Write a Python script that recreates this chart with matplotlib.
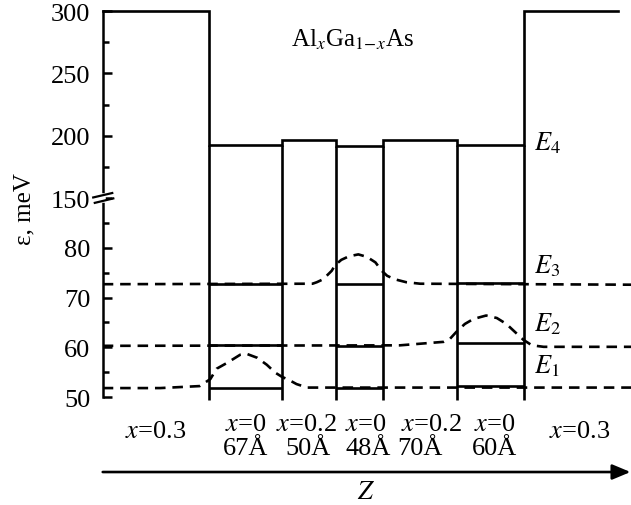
import numpy as np
import matplotlib
matplotlib.use("Agg")
import matplotlib.pyplot as plt
from matplotlib.ticker import FixedLocator, FixedFormatter
from matplotlib.transforms import blended_transform_factory

plt.rcParams['font.family'] = ['Liberation Serif', 'DejaVu Serif']
plt.rcParams['mathtext.fontset'] = 'stix'

# layer boundaries along z (Angstrom) and conduction band edge of each layer (meV)
bounds = [0, 100, 168, 219, 263, 333, 396, 484]
band_top = [300, 192.4, 197.0, 191.9, 196.7, 193.0, 300]
z_end = 496

layer_comp = ['$x$=0.3', '$x$=0', '$x$=0.2', '$x$=0', '$x$=0.2', '$x$=0', '$x$=0.3']
layer_width = ['', '67Å', '50Å', '48Å', '70Å', '60Å', '']
# where the labels sit along z (as printed, not exactly centred on layers)
comp_z = [50, 134, 191, 247, 309, 368, 448]
width_z = [None, 134, 193, 249, 298, 368, None]

# levels drawn as solid lines in the wells (layers 1, 3, 5)
well_idx = [1, 3, 5]
E1_lvl = [51.8, 51.9, 52.3]
E2_lvl = [60.4, 60.3, 60.8]
E3_lvl = [72.8, 72.8, 73.0]

# dashed wavefunction curves
E1_z = [0, 54, 91, 101, 107, 117, 129, 135, 145, 154, 162, 168, 176, 182, 192, 496]
E1_y = [51.8, 51.8, 52.2, 53.6, 55.7, 56.9, 58.5, 58.7, 57.9, 56.5, 54.9, 54.1, 53.3, 52.6, 51.9, 51.9]
E2_z = [0, 279, 320, 326, 332, 340, 348, 360, 370, 379, 387, 395, 403, 414, 496]
E2_y = [60.3, 60.4, 61.1, 61.7, 63.1, 64.7, 65.7, 66.4, 65.9, 64.7, 63.1, 61.5, 60.4, 60.1, 60.1]
E3_z = [0, 197, 201, 207, 215, 218, 224, 231, 240, 248, 256, 262, 267, 274, 285, 298, 496]
E3_y = [72.7, 72.8, 73.1, 73.7, 75.4, 76.5, 77.6, 78.3, 78.7, 78.2, 77.1, 75.4, 74.4, 73.7, 73.1, 72.8, 72.6]

E_lbl = ['$E_1$', '$E_2$', '$E_3$', '$E_4$']
E_lbl_y = [55.0, 63.5, 75.1, 189.5]
E_lbl_z = 405

major_ticks = [50, 60, 70, 80, 150, 200, 250, 300]
minor_ticks = [55, 65, 75, 85, 175, 225, 275]

# broken energy axis: 50..90 linear, 150..300 compressed
brk_in = [0, 89, 150, 400]
brk_out = [0, 89, 90, 90 + 250 * 0.2511]


def fwd(v):
    return np.interp(v, brk_in, brk_out)


def inv(u):
    return np.interp(u, brk_out, brk_in)


fig = plt.figure(figsize=(6.31, 5.06), dpi=100)
ax = fig.add_axes([0.1628, 0.2134, 0.8372, 0.7628])
ax.set_yscale('function', functions=(fwd, inv))
ax.set_xlim(0, z_end)
ax.set_ylim(50, 300)

lw = 1.9
dash = (0, (4.0, 2.6))

# band profile
px, py = [], []
for i, t in enumerate(band_top):
    px += [bounds[i], bounds[i + 1]]
    py += [t, t]
ax.plot(px, py, color='k', lw=lw, clip_on=False, solid_joinstyle='miter')
inner = bounds[1:-1]
vtop = [min(band_top[i], band_top[i + 1]) for i in range(len(inner))]
ax.vlines(inner, 49.3, vtop, color='k', lw=lw, clip_on=False)

# wavefunctions
for z, y in [(E1_z, E1_y), (E2_z, E2_y), (E3_z, E3_y)]:
    ax.plot(z, y, color='k', lw=lw, linestyle=dash)

# levels in the wells
for lv in [E1_lvl, E2_lvl, E3_lvl]:
    for k, i in enumerate(well_idx):
        ax.hlines(lv[k], bounds[i], bounds[i + 1], color='k', lw=lw, zorder=3)

for s, y in zip(E_lbl, E_lbl_y):
    ax.text(E_lbl_z, y, s, fontsize=19, ha='left', va='baseline')

ax.text(235, 272, r'Al$_x$Ga$_{1\!-\!x}$As', fontsize=18, ha='center', va='baseline')

# axes styling
for sp in ['top', 'right', 'bottom']:
    ax.spines[sp].set_visible(False)
ax.spines['left'].set_linewidth(1.8)
ax.xaxis.set_visible(False)
ax.yaxis.set_major_locator(FixedLocator(major_ticks))
ax.yaxis.set_major_formatter(FixedFormatter([str(t) for t in major_ticks]))
ax.yaxis.set_minor_locator(FixedLocator(minor_ticks))
ax.yaxis.set_minor_formatter(FixedFormatter([]))
ax.tick_params(axis='y', which='major', direction='in', length=6.5, width=1.8,
               labelsize=19, pad=9)
ax.tick_params(axis='y', which='minor', direction='in', length=4.3, width=1.8)
for t in ax.yaxis.get_major_ticks():
    if t.get_loc() == 150:
        t.tick1line.set_visible(False)

# axis break marks
bc = (fwd(150) - 50) / (fwd(300) - 50)
ax.plot([0, 0], [bc - 0.004, bc + 0.006], color='white', lw=4,
        transform=ax.transAxes, clip_on=False, zorder=5)
ax.plot([-0.018, 0.018], [bc + 0.002, bc + 0.0135], color='k', lw=1.6,
        transform=ax.transAxes, clip_on=False, zorder=6)
ax.plot([-0.015, 0.020], [bc - 0.012, bc - 0.0005], color='k', lw=1.6,
        transform=ax.transAxes, clip_on=False, zorder=6)

fig.text(24 / 631, 1 - 209 / 506, 'ε, meV', rotation=90, fontsize=18,
         ha='center', va='center')

# layer labels below the axis
tr = blended_transform_factory(ax.transData, ax.transAxes)
for i in range(len(layer_comp)):
    if layer_width[i]:
        ax.text(comp_z[i], -0.0855, layer_comp[i], transform=tr, fontsize=19,
                ha='center', va='baseline')
        ax.text(width_z[i], -0.148, layer_width[i], transform=tr, fontsize=19,
                ha='center', va='baseline')
    else:
        ax.text(comp_z[i], -0.1036, layer_comp[i], transform=tr, fontsize=19,
                ha='center', va='baseline')

ax.annotate('', xy=(0.999, -0.1943), xytext=(0, -0.1943), xycoords='axes fraction',
            arrowprops=dict(arrowstyle='-|>,head_length=0.55,head_width=0.23',
                            color='k', lw=1.9, shrinkA=0, shrinkB=0,
                            mutation_scale=20),
            annotation_clip=False)
ax.text(0.498, -0.246, '$Z$', transform=ax.transAxes, fontsize=19,
        ha='center', va='center')

fig.savefig('out.png', dpi=100)
